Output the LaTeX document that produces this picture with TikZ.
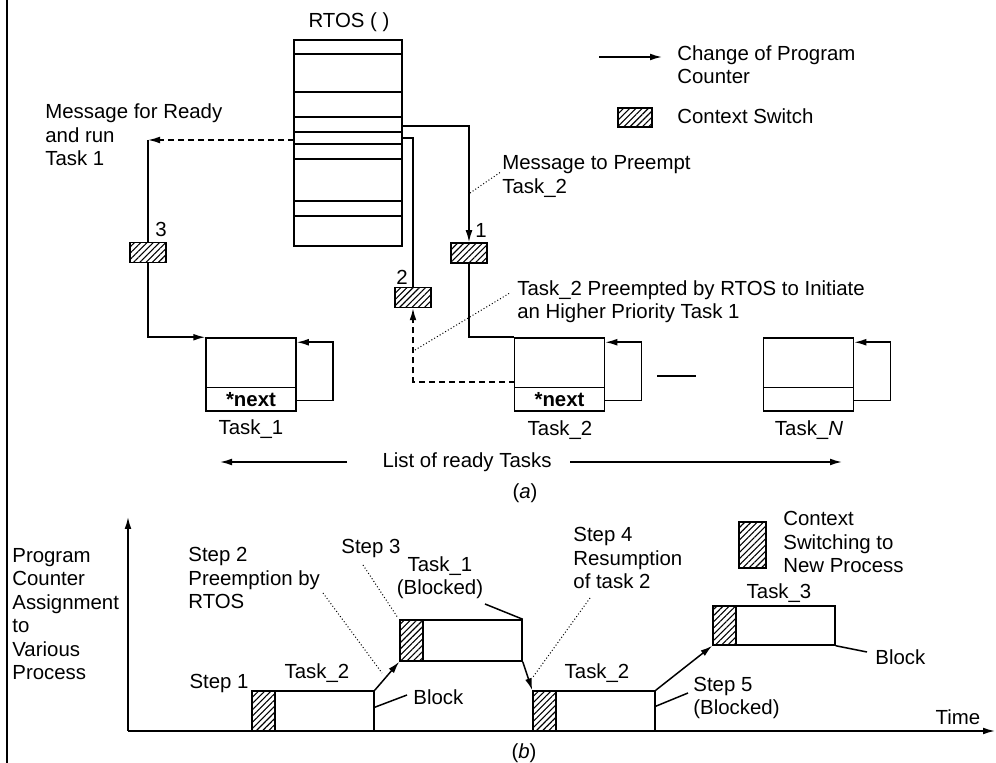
\documentclass[tikz,border=0pt]{standalone}
\usepackage{fontspec}
\setmainfont{Liberation Sans}
\usetikzlibrary{arrows.meta,patterns.meta}
\begin{document}
\begin{tikzpicture}[x=0.5pt,y=-0.5pt,
  every node/.style={font=\fontsize{10.2}{11.7}\selectfont, inner sep=0pt},
  ln/.style={line width=0.75pt},
  arr/.style={ln, -{Latex[length=6pt,width=3.4pt]}},
  dsh/.style={ln, dash pattern=on 3pt off 2pt},
  dotln/.style={line width=0.5pt, dash pattern=on 0.5pt off 1.1pt},
  hatch/.style={draw, line width=0.75pt, pattern={Lines[angle=45,distance=2.2pt,line width=0.55pt]}},
  sbox/.style={hatch, minimum width=18pt, minimum height=10pt},
  taskbox/.style={draw, ln, minimum width=45pt, minimum height=36.5pt},
  txt/.style={align=left, anchor=west},
  pbox/.style={draw, ln, minimum width=49.5pt, minimum height=20pt},
  phatch/.style={hatch, minimum width=11.5pt, minimum height=20pt}
]
\useasboundingbox (0,0) rectangle (996,763);
\draw[line width=0.6pt] (7,0) -- (7,763);

% ---------------- part (a) ----------------
\node (rtosl) at (349,22) {RTOS ( )};
\node[draw, ln, minimum width=54pt, minimum height=103pt] (rtos) at (348,143) {};
\foreach \yy in {54,92,117,132,144,159,201,216} \draw[ln] (294,\yy) -- (402,\yy);

% legend
\coordinate (lga) at (599,57);
\coordinate (lgb) at (662,57);
\draw[arr] (lga) -- (lgb);
\node[txt] (lgt) at (677,64.5) {Change of Program\\Counter};
\node[hatch, minimum width=17pt, minimum height=9.5pt] (lgh) at (635,117.5) {};
\node[txt] (lgc) at (677,116) {Context Switch};

% context switch boxes
\node[sbox] (s1) at (469,253) {};
\node[sbox] (s2) at (413,297.5) {};
\node[sbox] (s3) at (148,252.5) {};
\node (n1) at (481,230) {1};
\node (n2) at (402,277) {2};
\node (n3) at (161,229) {3};

% tasks
\node[taskbox] (t1) at (251,374.5) {};
\node[taskbox] (t2) at (559.5,374.5) {};
\node[taskbox] (tn) at (808.5,374.5) {};
\foreach \t in {t1,t2,tn} {
  \draw[ln] ([yshift=12pt]\t.south west) -- ([yshift=12pt]\t.south east);
  \draw[arr] ([yshift=5.5pt]\t.south east) -- ++(36,0) |- ([yshift=-2.5pt]\t.north east);
}
\node[font=\fontsize{10.2}{11.7}\selectfont\bfseries] (nx1) at ([yshift=6pt]t1.south) {*next};
\node[font=\fontsize{10.2}{11.7}\selectfont\bfseries] (nx2) at ([yshift=6pt]t2.south) {*next};
\node (t1l) at (251,429) {Task\_1};
\node (t2l) at (560,430) {Task\_2};
\node (tnl) at (809,430) {Task\_\textit{N}};

% connectors
\coordinate (r1) at (402,126);
\coordinate (r2) at (402,138);
\coordinate (r3) at (294,140);
\coordinate (c3) at (148,140);
\coordinate (d2) at (514.5,382);
\draw[arr] (r1) -| (s1.north);
\draw[ln] (r2) -| (s2.north);
\draw[arr, dsh] (r3) -- (c3);
\draw[ln] (c3) -- (s3.north);
\draw[arr] (s3.south) |- (t1.north west);
\draw[ln] (s1.south) |- (t2.north west);
\draw[arr, dsh] (d2) -| (s2.south);

% annotations
\node[txt] (mfr) at (45,135) {Message for Ready\\and run\\Task 1};
\node[txt] (msgp) at (502,176.5) {Message to Preempt\\Task\_2};
\node[txt] (pre) at (517,301.5) {Task\_2 Preempted by RTOS to Initiate\\an Higher Priority Task 1};
\coordinate (pa) at (470,193);
\coordinate (pb) at (415,350);
\draw[dotln] (pa) -- ([xshift=-1pt,yshift=2pt]msgp.west);
\draw[dotln] (pb) -- ([xshift=-4pt,yshift=4pt]pre.west);

% dash between tasks
\coordinate (ga) at (657,376);
\coordinate (gb) at (696,376);
\draw[ln] (ga) -- (gb);

% list of ready tasks
\node (list) at (467,462) {List of ready Tasks};
\coordinate (la) at (347,462);
\coordinate (lb) at (220,462);
\coordinate (lc) at (570,462);
\coordinate (ld) at (842,462);
\draw[arr] (la) -- (lb);
\draw[arr] (lc) -- (ld);
\node (capa) at (525,493) {(\textit{a})};

% ---------------- part (b) ----------------
\coordinate (O) at (128,731);
\coordinate (ytop) at (128,517);
\coordinate (xend) at (995,731);
\draw[arr] (O) -- (ytop);
\draw[arr] (O) -- (xend);
\node[txt] (ylab) at (12,614) {Program\\Counter\\Assignment\\to\\Various\\Process};

\node[phatch] (h1) at (263.5,711) {};
\node[pbox] (t2a) at (324.5,711) {};
\node[phatch, minimum height=20.5pt] (h2) at (411.5,640.5) {};
\node[pbox, minimum height=20.5pt] (t1b) at (472.5,640.5) {};
\node[phatch] (h3) at (544.5,711) {};
\node[pbox] (t2b) at (605.5,711) {};
\node[phatch, minimum height=19.5pt] (h4) at (724.5,625.5) {};
\node[pbox, minimum height=19.5pt] (t3) at (785.5,625.5) {};
\node[hatch, minimum width=13.5pt, minimum height=23pt] (lh) at (752.5,545) {};

\draw[arr] (t2a.north east) -- (h2.south west);
\draw[arr] (t1b.south east) -- (h3.north west);
\draw[arr] (t2b.north east) -- (h4.south west);

\node[anchor=east] (st1) at (249,683) {Step 1};
\node (tk2a) at (317,673) {Task\_2};
\node[txt] (st2) at (188,578) {Step 2\\Preemption by\\RTOS};
\node[txt] (st3) at (341,548) {Step 3};
\node[align=center] (tk1) at (440,578) {Task\_1\\(Blocked)};
\node[txt] (blk1) at (413,697) {Block};
\node[txt] (st4) at (573,558) {Step 4\\Resumption\\of task 2};
\node (tk2b) at (597,673) {Task\_2};
\node[txt] (st5) at (693,698) {Step 5\\(Blocked)};
\node (tk3) at (779,593) {Task\_3};
\node[txt] (blk2) at (875,657) {Block};
\node[txt] (leg2) at (783,542) {Context\\Switching to\\New Process};
\node (time) at (958,717) {Time};
\node (capb) at (524,753) {(\textit{b})};

\coordinate (tb) at (485,604);
\draw[ln] (tb) -- (t1b.north east);
\draw[ln] ([yshift=-8.5pt]t2a.north east) -- ([xshift=-3pt,yshift=1pt]blk1.west);
\draw[ln] ([yshift=-8pt]t2b.north east) -- ([xshift=-2.5pt,yshift=2.5pt]st5.west);
\draw[ln] (t3.south east) -- ([xshift=-4pt,yshift=2.5pt]blk2.west);

\coordinate (q2) at (323,593);
\coordinate (q3) at (363,565);
\coordinate (q4) at (590,598);
\draw[dotln] (q2) -- (382,673);
\draw[dotln] (q3) -- (398,618);
\draw[dotln] (q4) -- (533,677);
\end{tikzpicture}
\end{document}
